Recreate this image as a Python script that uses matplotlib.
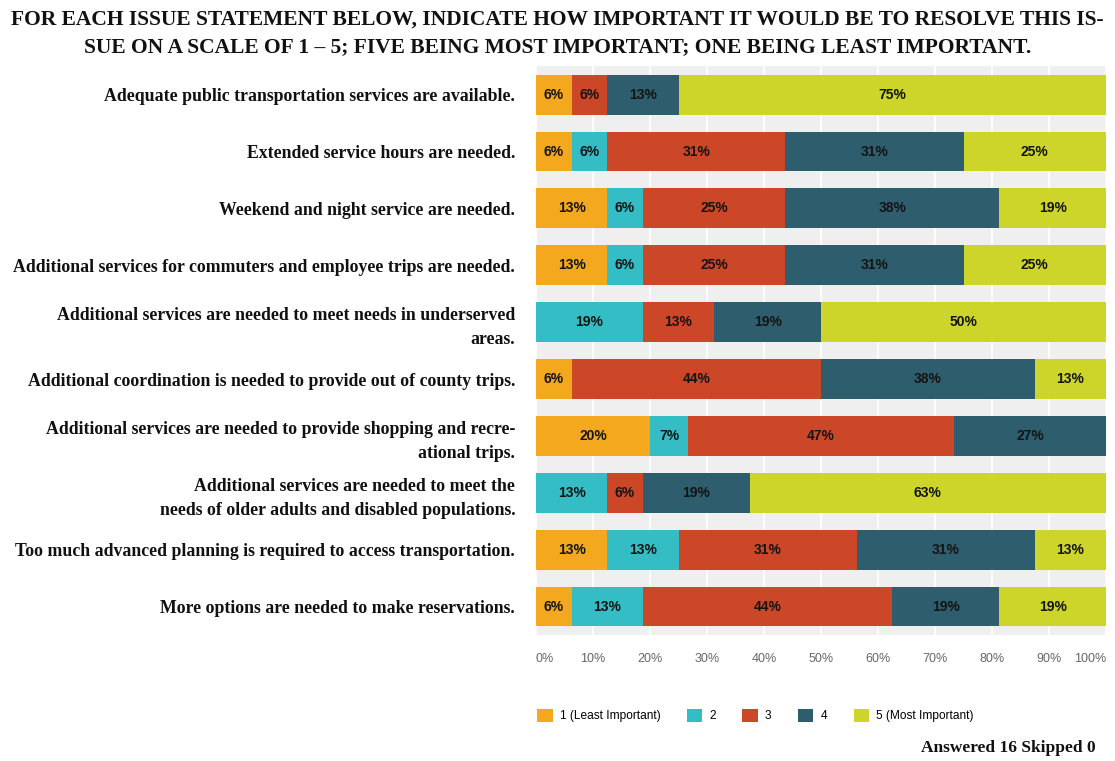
import numpy as np
import matplotlib.pyplot as plt
from matplotlib.patches import Patch

# survey issue statements, top to bottom
statements = [
    "Adequate public transportation services are available.",
    "Extended service hours are needed.",
    "Weekend and night service are needed.",
    "Additional services for commuters and employee trips are needed.",
    "Additional services are needed to meet needs in underserved\nareas.",
    "Additional coordination is needed to provide out of county trips.",
    "Additional services are needed to provide shopping and recre-\national trips.",
    "Additional services are needed to meet the\nneeds of older adults and disabled populations.",
    "Too much advanced planning is required to access transportation.",
    "More options are needed to make reservations.",
]

# share of answers (%) per rating, one list per rating level
rating1 = [6.25, 6.25, 12.5, 12.5, 0, 6.25, 20.0, 0, 12.5, 6.25]
rating2 = [0, 6.25, 6.25, 6.25, 18.75, 0, 6.67, 12.5, 12.5, 12.5]
rating3 = [6.25, 31.25, 25.0, 25.0, 12.5, 43.75, 46.67, 6.25, 31.25, 43.75]
rating4 = [12.5, 31.25, 37.5, 31.25, 18.75, 37.5, 26.67, 18.75, 31.25, 18.75]
rating5 = [75.0, 25.0, 18.75, 25.0, 50.0, 12.5, 0, 62.5, 12.5, 18.75]

legend_labels = ["1 (Least Important)", "2", "3", "4", "5 (Most Important)"]
colors = ["#F4A81E", "#35BDC5", "#CB4727", "#2E5E6D", "#CDD52A"]

title = ("FOR EACH ISSUE STATEMENT BELOW, INDICATE HOW IMPORTANT IT WOULD BE TO RESOLVE THIS IS-\n"
         "SUE ON A SCALE OF 1 \u2013 5; FIVE BEING MOST IMPORTANT; ONE BEING LEAST IMPORTANT.")
footer = "Answered 16 Skipped 0"

serif = ["Liberation Serif", "DejaVu Serif"]
narrow = ["Liberation Sans Narrow", "Liberation Sans", "DejaVu Sans"]

fig = plt.figure(figsize=(11.15, 7.61), dpi=100)
ax = fig.add_axes([0.4807, 0.1656, 0.5113, 0.7474])
ax.set_facecolor("#EFEFEF")

series = [rating1, rating2, rating3, rating4, rating5]
y = np.arange(len(statements))
left = np.zeros(len(statements))
for vals, col in zip(series, colors):
    vals = np.array(vals, dtype=float)
    ax.barh(y, vals, left=left, height=0.7, color=col, zorder=2)
    for yi, (l, v) in enumerate(zip(left, vals)):
        if v > 0:
            ax.text(l + v / 2, yi, f"{int(v + 0.5)}%", ha="center", va="center",
                    fontsize=10, fontweight="bold", color="#141414", family=narrow, zorder=3)
    left += vals

ax.set_xlim(0, 100)
ax.set_ylim(len(statements) - 0.5, -0.5)
ax.set_xticks(np.arange(0, 101, 10))
ax.xaxis.grid(True, color="white", linewidth=1.2, zorder=1)
ax.set_axisbelow(True)
for s in ax.spines.values():
    s.set_visible(False)
ax.tick_params(axis="x", length=0, pad=13, labelcolor="#666666", labelsize=9)
ax.tick_params(axis="y", length=0, pad=15)
xlabels = ax.set_xticklabels([f"{t}%" for t in range(0, 101, 10)], family=["Liberation Sans", "DejaVu Sans"])
xlabels[0].set_ha("left")
xlabels[-1].set_ha("right")

ax.set_yticks(y)
ax.set_yticklabels(statements, family=serif, fontweight="bold", fontsize=12.8,
                   color="#111111", linespacing=1.55)

fig.text(0.5, 0.987, title, ha="center", va="top", family=serif, fontweight="bold",
         fontsize=15.5, color="#111111", linespacing=1.45)

handles = [Patch(facecolor=c, edgecolor="none") for c in colors]
fig.legend(handles, legend_labels, loc="center left", bbox_to_anchor=(0.472, 0.06),
           ncol=5, frameon=False, handlelength=1.3, handleheight=1.3, handletextpad=0.6,
           columnspacing=2.2, prop={"family": ["Liberation Sans", "DejaVu Sans"], "size": 8.6})

fig.text(0.983, 0.006, footer, ha="right", va="bottom", family=serif, fontweight="bold",
         fontsize=12.5, color="#111111")

fig.savefig("out.png", dpi=100, facecolor="white")
